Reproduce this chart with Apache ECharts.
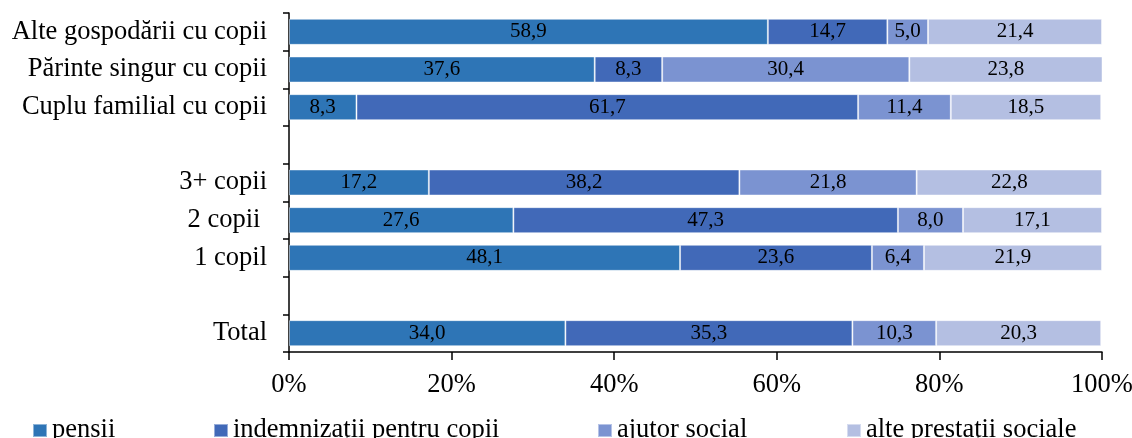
<!DOCTYPE html>
<html>
<head>
<meta charset="utf-8">
<script src="https://cdn.jsdelivr.net/npm/echarts@6/dist/echarts.min.js"></script>
<style>html,body{margin:0;padding:0;background:#fff}#c{width:1132px;height:438px}</style>
</head>
<body>
<div id="c"></div>
<script>
const categories = ['Total', ' ', '1 copil', '2 copii ', '3+ copii', '  ', 'Cuplu familial cu copii', 'Părinte singur cu copii', 'Alte gospodării cu copii'];
const seriesNames = ['pensii', 'indemnizații pentru copii', 'ajutor social', 'alte prestații sociale'];
const pensii = [34.0, null, 48.1, 27.6, 17.2, null, 8.3, 37.6, 58.9];
const indemnizatii = [35.3, null, 23.6, 47.3, 38.2, null, 61.7, 8.3, 14.7];
const ajutor = [10.3, null, 6.4, 8.0, 21.8, null, 11.4, 30.4, 5.0];
const alte = [20.3, null, 21.9, 17.1, 22.8, null, 18.5, 23.8, 21.4];
const xTicks = [0, 20, 40, 60, 80, 100];

const colors = ['#2E75B6', '#4169B8', '#7B93D1', '#B4BFE2'];
const font = 'Liberation Serif';
const values = [pensii, indemnizatii, ajutor, alte];

const chart = echarts.init(document.getElementById('c'));
const legendLefts = [27, 208, 592, 841];
chart.setOption({
  animation: false,
  color: colors,
  grid: { left: 289, right: 30, top: 13, bottom: 86, containLabel: false, outerBoundsMode: 'none' },
  legend: seriesNames.map((n, i) => ({
    data: [n], left: legendLefts[i], top: 412, icon: 'rect', itemWidth: 14, itemHeight: 13,
    textStyle: { fontFamily: font, fontSize: 26.5, color: '#000' },
    selectedMode: false
  })),
  xAxis: {
    type: 'value', min: 0, max: 100, interval: 20,
    axisLine: { show: true, lineStyle: { color: '#000', width: 1.5 } },
    axisTick: { show: true, length: 8, lineStyle: { color: '#000', width: 1.5 } },
    splitLine: { show: false },
    axisLabel: { fontFamily: font, fontSize: 26.5, color: '#000', margin: 20, formatter: v => xTicks.includes(v) ? v + '%' : '' }
  },
  yAxis: {
    type: 'category', data: categories,
    axisLine: { show: true, lineStyle: { color: '#000', width: 1.5 } },
    axisTick: { show: true, length: 6, lineStyle: { color: '#000', width: 1.5 } },
    axisLabel: { fontFamily: font, fontSize: 26.5, color: '#000', margin: 22 }
  },
  series: seriesNames.map((n, i) => ({
    name: n, type: 'bar', stack: 'a', barWidth: 26,
    data: values[i],
    itemStyle: { color: colors[i], borderColor: 'rgba(255,255,255,0.45)', borderWidth: 1 },
    label: {
      show: true, position: 'inside', fontFamily: font, fontSize: 21, color: '#000',
      formatter: p => p.value == null ? '' : p.value.toFixed(1).replace('.', ',')
    }
  }))
});
</script>
</body>
</html>
